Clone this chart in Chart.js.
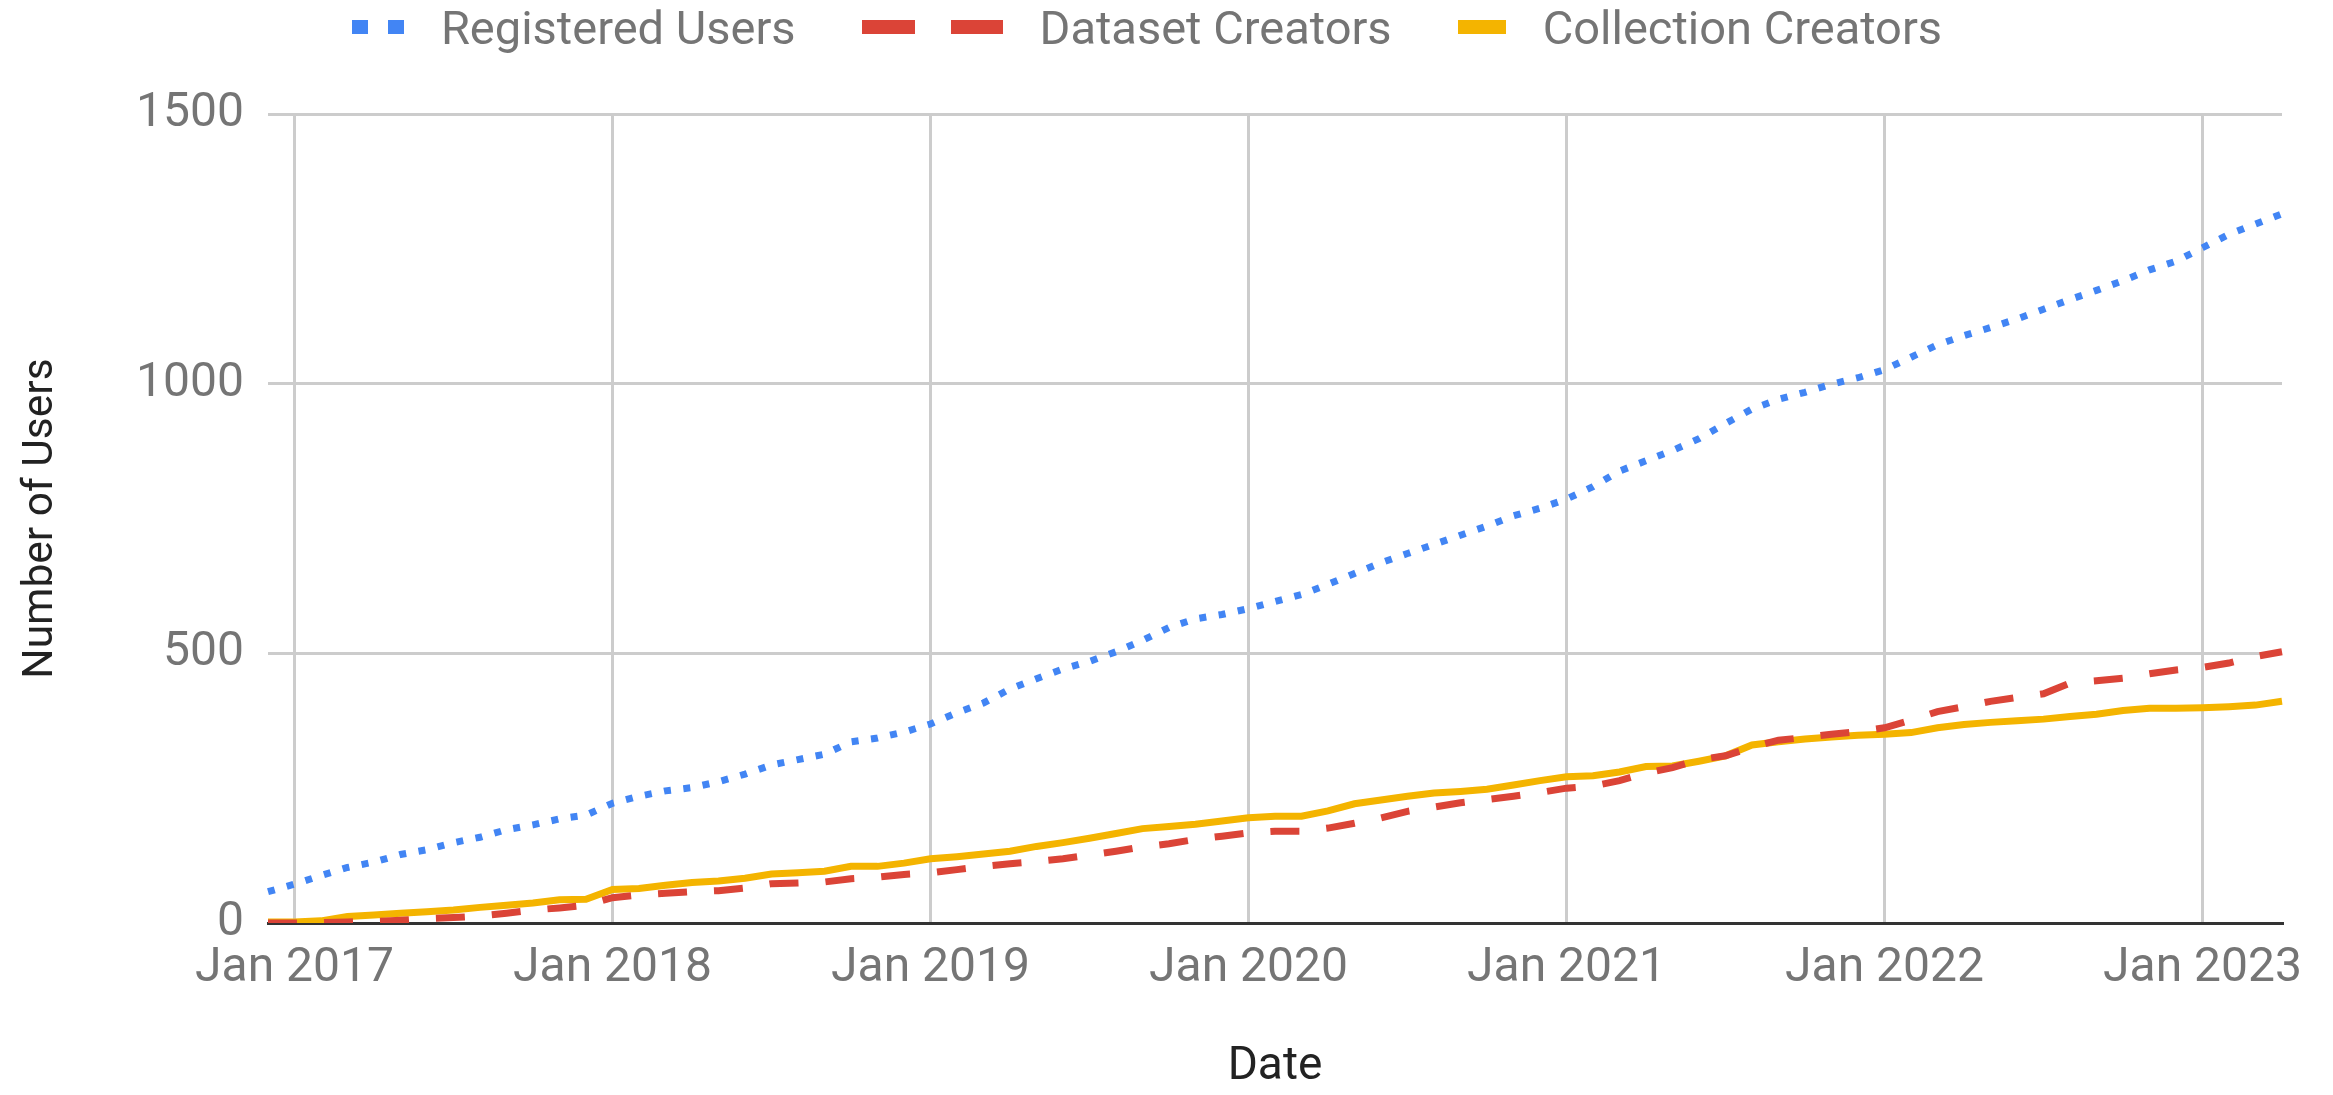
<!DOCTYPE html>
<html>
<head>
<meta charset="utf-8">
<title>Users over time</title>
<script src="https://cdn.jsdelivr.net/npm/chart.js@4.4.1/dist/chart.umd.min.js"></script>
<style>
  html, body { margin: 0; padding: 0; background: #ffffff; }
  .wrap { position: relative; width: 2333px; height: 1095px; }
  #users-chart { display: block; }
  /* legend is rendered separately, above the canvas */
  .legend {
    position: absolute; top: 0; left: 0; width: 2294px; height: 54px;
    display: flex; justify-content: center; align-items: center;
    font-family: Roboto, sans-serif; font-size: 47px; color: #757575;
  }
  .legend-item { display: flex; align-items: center; margin: 0 33px; white-space: nowrap; }
  .legend-mark { height: 14px; margin-right: 37px; }
</style>
</head>
<body>
<div class="wrap">
  <canvas id="users-chart" width="2333" height="1095"></canvas>
  <div class="legend" id="chart-legend"></div>
</div>
<script>
// ---- DATA (monthly, Dec 2016 .. Apr 2023) ----
const monthLabels = [
  'Dec 2016',
  'Jan 2017','Feb 2017','Mar 2017','Apr 2017','May 2017','Jun 2017','Jul 2017','Aug 2017','Sep 2017','Oct 2017','Nov 2017','Dec 2017',
  'Jan 2018','Feb 2018','Mar 2018','Apr 2018','May 2018','Jun 2018','Jul 2018','Aug 2018','Sep 2018','Oct 2018','Nov 2018','Dec 2018',
  'Jan 2019','Feb 2019','Mar 2019','Apr 2019','May 2019','Jun 2019','Jul 2019','Aug 2019','Sep 2019','Oct 2019','Nov 2019','Dec 2019',
  'Jan 2020','Feb 2020','Mar 2020','Apr 2020','May 2020','Jun 2020','Jul 2020','Aug 2020','Sep 2020','Oct 2020','Nov 2020','Dec 2020',
  'Jan 2021','Feb 2021','Mar 2021','Apr 2021','May 2021','Jun 2021','Jul 2021','Aug 2021','Sep 2021','Oct 2021','Nov 2021','Dec 2021',
  'Jan 2022','Feb 2022','Mar 2022','Apr 2022','May 2022','Jun 2022','Jul 2022','Aug 2022','Sep 2022','Oct 2022','Nov 2022','Dec 2022',
  'Jan 2023','Feb 2023','Mar 2023','Apr 2023'
];

const registeredUsers = [
  58,
  72, 88, 103, 113, 127, 136, 149, 159, 173, 182, 193, 200,
  222, 235, 245, 251, 262, 276, 293, 303, 313, 336, 343, 354,
  369, 390, 408, 434, 453, 471, 485, 503, 524, 548, 564, 572,
  583, 596, 609, 628, 648, 668, 685, 702, 719, 736, 755, 769,
  786, 809, 838, 857, 876, 898, 926, 953, 971, 984, 999, 1011,
  1026, 1049, 1072, 1089, 1104, 1120, 1138, 1156, 1173, 1191, 1211, 1227,
  1252, 1277, 1296, 1315
];

const datasetCreators = [
  0,
  0, 1, 2, 3, 5, 8, 10, 13, 18, 24, 28, 33,
  47, 52, 55, 58, 60, 65, 73, 74, 76, 82, 85, 90,
  93, 99, 105, 110, 114, 119, 126, 133, 141, 147, 155, 161,
  167, 170, 170, 176, 185, 195, 207, 215, 223, 229, 235, 242,
  250, 254, 264, 278, 288, 303, 310, 326, 339, 344, 350, 355,
  362, 376, 392, 401, 411, 418, 425, 445, 449, 454, 462, 469,
  474, 482, 494, 503
];

const collectionCreators = [
  2,
  2, 4, 12, 15, 18, 21, 24, 29, 33, 37, 43, 44,
  62, 64, 70, 75, 78, 83, 91, 93, 96, 105, 105, 111,
  119, 123, 128, 133, 142, 149, 157, 166, 175, 179, 183, 189,
  195, 198, 198, 208, 221, 228, 235, 241, 244, 248, 256, 264,
  271, 273, 280, 290, 291, 300, 310, 330, 336, 341, 345, 348,
  350, 353, 362, 368, 372, 375, 378, 383, 387, 394, 398, 398,
  399, 401, 404, 411
];

const yTicks = [0, 500, 1000, 1500];

// ---- STYLE ----
const COLORS = { blue: '#4285f4', red: '#db4437', yellow: '#f4b400' };
const GRID = '#cccccc';
const BASELINE = '#333333';
const TICK_TEXT = '#757575';
const TITLE_TEXT = '#222222';

Chart.defaults.font.family = 'Roboto, sans-serif';

const series = [
  { label: 'Registered Users',    data: registeredUsers,    color: COLORS.blue,   dash: [7, 12.5],
    mark: { w: 52,  bg: `linear-gradient(to right, ${COLORS.blue} 0 16px, transparent 16px 36px, ${COLORS.blue} 36px 52px)` } },
  { label: 'Dataset Creators',    data: datasetCreators,    color: COLORS.red,    dash: [29, 27],
    mark: { w: 141, bg: `linear-gradient(to right, ${COLORS.red} 0 53px, transparent 53px 89px, ${COLORS.red} 89px 141px)` } },
  { label: 'Collection Creators', data: collectionCreators, color: COLORS.yellow, dash: [],
    mark: { w: 48,  bg: COLORS.yellow } },
];

const isJan = i => monthLabels[i].startsWith('Jan');

const chart = new Chart(document.getElementById('users-chart'), {
  type: 'line',
  data: {
    labels: monthLabels,
    datasets: series.map(s => ({
      label: s.label,
      data: s.data,
      borderColor: s.color,
      backgroundColor: s.color,
      borderWidth: 7,
      borderDash: s.dash,
      borderCapStyle: 'butt',
      pointRadius: 0,
      pointHoverRadius: 0,
      tension: 0,
      fill: false,
    })),
  },
  options: {
    responsive: false,
    devicePixelRatio: 1,
    animation: false,
    layout: { padding: { top: 114, right: 51, bottom: 0, left: 0 } },
    plugins: {
      legend: { display: false },
      tooltip: { enabled: false },
    },
    scales: {
      x: {
        offset: false,
        grid: {
          color: ctx => isJan(ctx.index) ? GRID : 'rgba(0,0,0,0)',
          lineWidth: 3,
          drawTicks: false,
        },
        border: { display: true, color: BASELINE, width: 3 },
        ticks: {
          autoSkip: false,
          maxRotation: 0,
          minRotation: 0,
          padding: 17,
          color: TICK_TEXT,
          font: { size: 48 },
          callback: (v, i) => isJan(i) ? monthLabels[i] : '',
        },
        title: {
          display: true, text: 'Date', color: TITLE_TEXT,
          font: { size: 46 }, padding: { top: 0, bottom: 0 },
        },
        afterFit: s => { s.height = 172; s.paddingLeft = 0; s.paddingRight = 0; },
      },
      y: {
        min: yTicks[0],
        max: yTicks[yTicks.length - 1],
        afterBuildTicks: s => { s.ticks = yTicks.map(v => ({ value: v })); },
        grid: {
          color: ctx => ctx.tick && ctx.tick.value === 0 ? BASELINE : GRID,
          lineWidth: 3,
          drawTicks: false,
        },
        border: { display: false },
        ticks: {
          padding: 24,
          color: TICK_TEXT,
          font: { size: 48 },
          callback: v => String(v),
        },
        title: {
          display: true, text: 'Number of Users', color: TITLE_TEXT,
          font: { size: 42.5 }, padding: { top: 16, bottom: 0 },
        },
        afterFit: s => { s.width = 268; s.paddingTop = 0; s.paddingBottom = 0; },
      },
    },
  },
});

// ---- LEGEND ----
document.getElementById('chart-legend').innerHTML = series.map(s => `
  <div class="legend-item">
    <div class="legend-mark" style="width:${s.mark.w}px;background:${s.mark.bg}"></div>
    <span>${s.label}</span>
  </div>`).join('');
</script>
</body>
</html>
